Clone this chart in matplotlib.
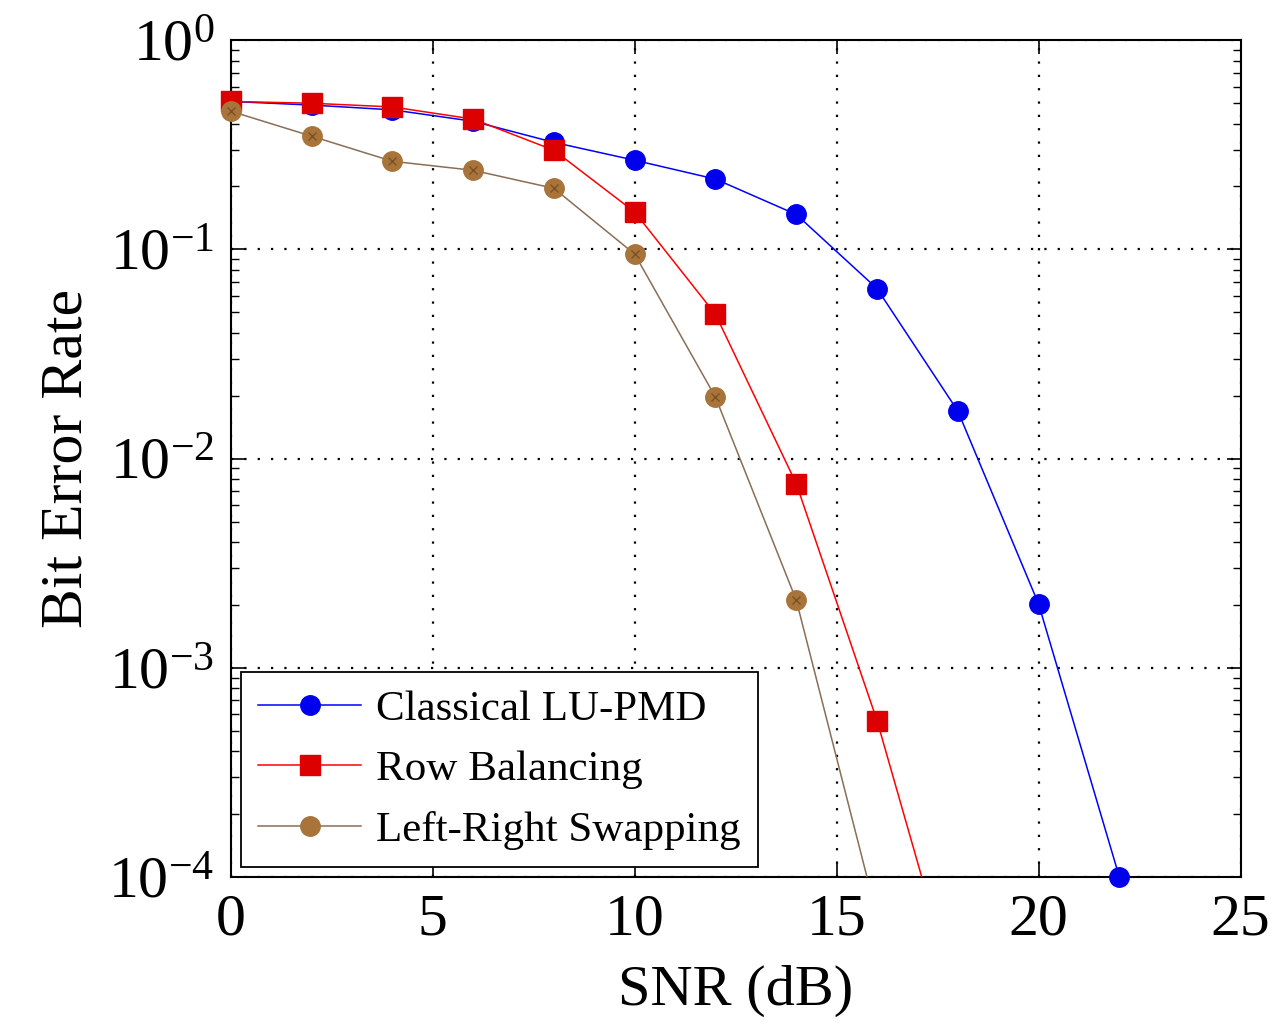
import matplotlib.pyplot as plt
import matplotlib.ticker as mticker
from matplotlib.lines import Line2D

plt.rcParams['font.family'] = ['Liberation Serif', 'DejaVu Serif']
plt.rcParams['mathtext.fontset'] = 'custom'
plt.rcParams['mathtext.rm'] = 'Liberation Serif'
plt.rcParams['mathtext.it'] = 'Liberation Serif:italic'
plt.rcParams['mathtext.bf'] = 'Liberation Serif:bold'

snr = [0, 2, 4, 6, 8, 10, 12, 14, 16, 18, 20, 22]
ber_lu = [0.51, 0.49, 0.465, 0.41, 0.325, 0.267, 0.217, 0.147, 0.065, 0.0169, 0.00202, 0.0001]
snr_rb = [0, 2, 4, 6, 8, 10, 12, 14, 16, 18]
ber_rb = [0.51, 0.50, 0.48, 0.42, 0.298, 0.151, 0.049, 0.0076, 0.00056, 0.000025]
snr_lr = [0, 2, 4, 6, 8, 10, 12, 14, 16]
ber_lr = [0.458, 0.348, 0.264, 0.239, 0.196, 0.095, 0.0197, 0.00211, 0.000065]

fig = plt.figure(figsize=(12.75, 10.32), dpi=100)
ax = fig.add_axes([0.181, 0.150, 0.792, 0.811])

styles = [
    (snr, ber_lu, '#0000ff', 'o', 14, '#0000ee', 'Classical LU-PMD'),
    (snr_rb, ber_rb, '#ff0000', 's', 15, '#dd0000', 'Row Balancing'),
    (snr_lr, ber_lr, '#8a6e55', 'o', 14, '#a8743a', 'Left-Right Swapping'),
]
z = 3
for xs, ys, lc, mk, ms, mc, lab in styles:
    # line clipped to the axes, markers left unclipped like pgfplots
    ax.plot(xs, ys, color=lc, lw=1.1, zorder=z)
    keep = [(a, b) for a, b in zip(xs, ys) if b >= 1e-4]
    ax.plot([a for a, b in keep], [b for a, b in keep], ls='none', marker=mk, ms=ms,
            mfc=mc, mec=mc, clip_on=False, zorder=z + 0.5)
    z += 1

keep = [(a, b) for a, b in zip(snr_lr, ber_lr) if b >= 1e-4]
ax.plot([a for a, b in keep], [b for a, b in keep], ls='none', marker='x', ms=6, mew=1.0,
        color='#7a5228', clip_on=False, zorder=7)

ax.set_yscale('log')
ax.set_xlim(0, 25)
ax.set_ylim(1e-4, 1)
ax.set_xticks([0, 5, 10, 15, 20, 25])
ax.yaxis.set_major_locator(mticker.LogLocator(base=10, numticks=10))
ax.yaxis.set_minor_locator(mticker.LogLocator(base=10, subs=range(2, 10), numticks=20))
ax.yaxis.set_minor_formatter(mticker.NullFormatter())

ax.grid(True, which='major', color='black', ls=(0, (1, 5)), lw=1.6)
ax.tick_params(which='both', direction='in', top=True, right=True, labelsize=43, pad=12)
ax.tick_params(which='major', length=10, width=1.2)
ax.tick_params(which='minor', length=6, width=1.0)
for sp in ax.spines.values():
    sp.set_linewidth(1.5)

ax.set_xlabel('SNR (dB)', fontsize=42, labelpad=12)
ax.set_ylabel('Bit Error Rate', fontsize=43, labelpad=10)

handles = [Line2D([], [], color=lc, lw=1.1, marker=mk, ms=ms, mfc=mc, mec=mc)
           for xs, ys, lc, mk, ms, mc, lab in styles]
labels = [s[-1] for s in styles]
leg = ax.legend(handles, labels, loc='lower left', fontsize=31, frameon=True, fancybox=False,
                framealpha=1, edgecolor='black', borderaxespad=0, handlelength=2.4,
                labelspacing=0.5, borderpad=0.4, handletextpad=0.35,
                bbox_to_anchor=(0.01, 0.012))
leg.get_frame().set_linewidth(1.3)
leg.set_zorder(10)

fig.savefig('out.png', dpi=100)
